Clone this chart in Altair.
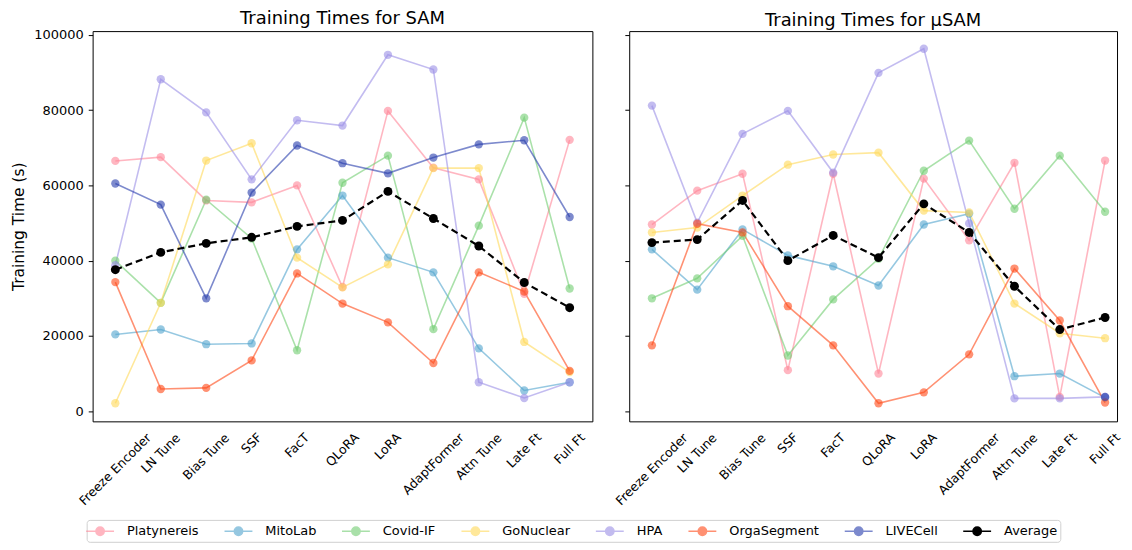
import altair as alt
import pandas as pd

methods = ["Freeze Encoder", "LN Tune", "Bias Tune", "SSF", "FacT", "QLoRA",
           "LoRA", "AdaptFormer", "Attn Tune", "Late Ft", "Full Ft"]
series = ["Platynereis", "MitoLab", "Covid-IF", "GoNuclear", "HPA",
          "OrgaSegment", "LIVECell", "Average"]
colors = ["#FF8597", "#50A3CD", "#71CD71", "#FFD958", "#9B8FE6",
          "#FF4816", "#263CAC", "#000000"]

# SAM panel
sam_platynereis = [66500, 67500, 56000, 55500, 60000, 33000, 79800, 64700, 61600, 31200, 72100]
sam_mitolab = [20400, 21700, 17800, 18000, 43000, 57300, 40800, 36900, 16700, 5500, 7700]
sam_covid = [40000, 28800, 56200, 45900, 16200, 60700, 67900, 21800, 49300, 78000, 32600]
sam_gonuclear = [2100, 28800, 66600, 71200, 40800, 32900, 39000, 64600, 64600, 18400, 10400]
sam_hpa = [38800, 88200, 79400, 61600, 77300, 75900, 94700, 90800, 7700, 3500, 7700]
sam_orga = [34300, 5900, 6200, 13500, 36600, 28600, 23600, 12800, 36900, 31800, 10700]
sam_livecell = [60500, 54900, 30000, 58100, 70600, 65900, 63200, 67400, 70900, 72000, 51600]
sam_average = [37600, 42200, 44600, 46200, 49100, 50700, 58400, 51200, 43900, 34200, 27500]

# muSAM panel
usam_platynereis = [49600, 58600, 63100, 10900, 63100, 10000, 61800, 45400, 66000, 3800, 66600]
usam_mitolab = [43000, 32300, 48300, 41400, 38500, 33400, 49600, 52500, 9300, 10000, 3600]
usam_covid = [30000, 35300, 46600, 14800, 29700, 40500, 63900, 71900, 53800, 67900, 53000]
usam_gonuclear = [47500, 48800, 57300, 65500, 68200, 68700, 53300, 52800, 28600, 20700, 19400]
usam_hpa = [81200, 50100, 73700, 79800, 63400, 89900, 96300, 49900, 3400, 3400, 3800]
usam_orga = [17500, 49800, 47500, 27900, 17500, 2100, 5000, 15100, 37900, 24100, 2300]
usam_livecell = [None, None, None, None, None, None, None, None, None, None, 3800]
usam_average = [44800, 45600, 56000, 40000, 46700, 40800, 55100, 47500, 33200, 21700, 24900]

y_ticks = [0, 20000, 40000, 60000, 80000, 100000]

panels = {
    "SAM": [sam_platynereis, sam_mitolab, sam_covid, sam_gonuclear, sam_hpa,
            sam_orga, sam_livecell, sam_average],
    "uSAM": [usam_platynereis, usam_mitolab, usam_covid, usam_gonuclear, usam_hpa,
             usam_orga, usam_livecell, usam_average],
}

rows = []
for pname, lists in panels.items():
    for s, vals in zip(series, lists):
        for i, (m, v) in enumerate(zip(methods, vals)):
            if v is not None:
                rows.append({"panel": pname, "series": s, "method": m, "idx": i, "value": v})
df = pd.DataFrame(rows)

FONT = "DejaVu Sans"
PLOT_H = 392
XLAB_SIZE = 12.5
TICK = 4.4

# DejaVu Sans advance widths (em) to centre rotated tick labels like matplotlib
char_w = {"F": .576, "r": .411, "e": .615, "z": .525, " ": .318, "E": .632, "n": .634,
          "c": .550, "o": .612, "d": .635, "L": .557, "N": .748, "T": .611, "u": .634,
          "B": .686, "i": .278, "a": .613, "s": .521, "S": .635, "Q": .787, "R": .695,
          "A": .684, "p": .635, "t": .392, "m": .974, "l": .278}
lab_rows = []
for m in methods:
    w = sum(char_w.get(ch, .6) for ch in m) * XLAB_SIZE
    half = 0.3536 * (w + 1.17 * XLAB_SIZE)
    lab_rows.append({"method": m, "ly": PLOT_H + TICK + 4.4 + half})
lab_df = pd.DataFrame(lab_rows)

legend_path = "M-2,0H2M-0.6,0A0.6,0.6 0 1,1 0.6,0A0.6,0.6 0 1,1 -0.6,0Z"


def panel(pname, title, first, width, xrange=None):
    base = alt.Chart(df).transform_filter(alt.datum.panel == pname)
    if xrange is None:
        xs = alt.Scale(type="point", domain=methods, padding=0.5)
    else:
        xs = alt.Scale(type="point", domain=methods, padding=0, range=xrange)
    x = alt.X("method:N", sort=methods, scale=xs,
              axis=alt.Axis(title=None, labels=False, tickSize=TICK))
    y = alt.Y("value:Q",
              scale=alt.Scale(domain=[-2700, 101000], nice=False, zero=False),
              axis=alt.Axis(values=y_ticks, format="d", labels=first,
                            title="Training Time (s)" if first else None,
                            titlePadding=7, labelPadding=5, tickSize=TICK))
    color = alt.Color("series:N", scale=alt.Scale(domain=series, range=colors),
                      legend=alt.Legend(title=None, orient="none", direction="horizontal",
                                        columns=8, legendX=-6, legendY=491,
                                        symbolType=legend_path, symbolSize=196,
                                        symbolStrokeWidth=1.5, symbolOffset=2.5,
                                        labelFontSize=13, labelFont=FONT,
                                        labelOffset=19, columnPadding=22,
                                        padding=3, strokeColor="#d0d0d0",
                                        cornerRadius=3, fillColor="white"))
    opacity = alt.Opacity("series:N",
                          scale=alt.Scale(type="ordinal", domain=series,
                                          range=[0.6] * 7 + [1.0]))
    others = base.transform_filter(alt.datum.series != "Average")
    avg = base.transform_filter(alt.datum.series == "Average")
    lines = others.mark_line(strokeWidth=1.6).encode(
        x=x, y=y, color=color, opacity=opacity, order="idx:Q", detail="series:N")
    pts = others.mark_point(filled=True, size=70).encode(
        x=x, y=y, color=color, opacity=opacity)
    aline = avg.mark_line(strokeWidth=2.2, strokeDash=[7, 4]).encode(
        x=x, y=y, color=color, opacity=opacity, order="idx:Q")
    apts = avg.mark_point(filled=True, size=80).encode(
        x=x, y=y, color=color, opacity=opacity)
    data_layers = alt.layer(lines, pts, aline, apts)
    labels = alt.Chart(lab_df).mark_text(
        angle=315, align="center", baseline="middle", fontSize=XLAB_SIZE,
        font=FONT, color="black").encode(
        x=alt.X("method:N", sort=methods, scale=xs, axis=None),
        y=alt.Y("ly:Q", scale=None, axis=None),
        text="method:N")
    return alt.layer(data_layers, labels).resolve_scale(
        y="independent").properties(
        width=width, height=PLOT_H,
        title=alt.TitleParams(title, fontSize=18, fontWeight="normal", font=FONT,
                              color="black", offset=1))


chart = alt.hconcat(
    panel("SAM", "Training Times for SAM", True, 502),
    panel("uSAM", "Training Times for μSAM", False, 490, xrange=[22.8, 478.0]),
    spacing=20,
).configure_view(stroke="black", strokeWidth=1).configure_axis(
    domain=False, grid=False, tickColor="black", tickWidth=1,
    labelColor="black", labelFont=FONT, labelFontSize=13,
    titleFont=FONT, titleFontSize=15.5, titleFontWeight="normal", titleColor="black",
).properties(padding={"left": 3, "top": 0, "right": 0, "bottom": 0})

chart.save("out.html", embed_options={"renderer": "svg", "actions": False})
